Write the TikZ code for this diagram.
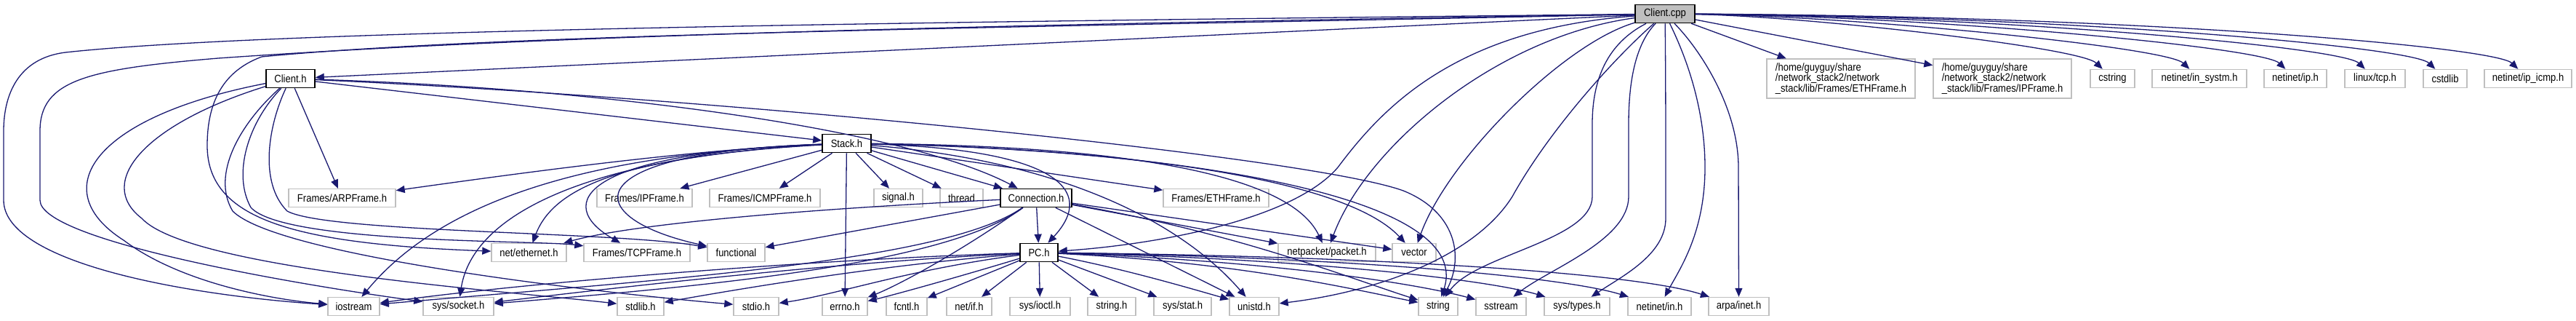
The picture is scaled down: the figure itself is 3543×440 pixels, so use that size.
\documentclass[tikz,border=0pt]{standalone}
\usepackage{fontspec}
\setmainfont{Liberation Sans}[FakeStretch=0.88]
\usetikzlibrary{calc, arrows.meta, positioning}
\definecolor{edgeblue}{RGB}{25,25,112}
\definecolor{leafgrey}{RGB}{191,191,191}
\definecolor{rootgrey}{RGB}{191,191,191}
\tikzset{
  incfile/.style={draw=leafgrey, fill=white, line width=.7pt, inner sep=0pt,
    minimum height=12.5pt, font=\fontsize{7.4pt}{7.3pt}\selectfont},
  hdrfile/.style={incfile, draw=black, line width=.8pt},
  rootfile/.style={hdrfile, fill=rootgrey},
  inc/.style={draw=edgeblue, line width=.65pt, -{Triangle[length=6pt,width=5pt]}}
}
\begin{document}
\begin{tikzpicture}[x=.5pt, y=-.5pt]
        \useasboundingbox (0,0) rectangle (3543,440);
        \node[rootfile, minimum width=41pt] (cpp) at (2290,19) {Client.cpp};
        \foreach \nm/\xa/\xb/\yy/\txt in {clienth/366/433/108/Client.h, stack/1131/1198/197/Stack.h,
            conn/1376/1474/272/Connection.h, pch/1403/1455/347/PC.h}{
          \node[hdrfile, minimum width=(\xb-\xa)*.5pt] (\nm) at ({(\xa+\xb)/2},\yy) {\txt};
        }
        \foreach \nm/\xa/\xb/\yy/\txt in {
            cstring/2875/2936/108/cstring, insystm/2960/3090/108/{netinet/in\_systm.h},
            ip/3114/3200/108/{netinet/ip.h}, lintcp/3225/3308/108/{linux/tcp.h},
            cstdlib/3333/3393/108/cstdlib, icmph/3417/3537/108/{netinet/ip\_icmp.h},
            arp/397/544/272/{Frames/ARPFrame.h}, ipframe/821/952/272/{Frames/IPFrame.h},
            icmp/976/1128/272/{Frames/ICMPFrame.h}, signal/1202/1269/272/{signal.h},
            thread/1293/1352/272/thread, ethframe/1600/1745/272/{Frames/ETHFrame.h},
            ether/676/779/347/{net/ethernet.h}, tcp/803/949/347/{Frames/TCPFrame.h},
            functional/973/1052/347/functional, netpacket/1758/1892/347/{netpacket/packet.h},
            vector/1915/1975/347/vector,
            iostream/451/522/421/iostream, socket/582/679/421/{sys/socket.h},
            stdlib/849/913/421/{stdlib.h}, stdio/1009/1071/421/{stdio.h},
            errno/1131/1193/421/{errno.h}, fcntl/1219/1275/421/{fcntl.h},
            netif/1302/1364/421/{net/if.h}, ioctl/1389/1472/421/{sys/ioctl.h},
            stringh/1496/1562/421/{string.h}, stat/1587/1666/421/{sys/stat.h},
            unistd/1691/1759/421/{unistd.h}, string/1951/2005/421/string,
            sstream/2030/2099/421/sstream, types/2124/2214/421/{sys/types.h},
            netin/2239/2326/421/{netinet/in.h}, inet/2350/2433/421/{arpa/inet.h}}{
          \node[incfile, minimum width=(\xb-\xa)*.5pt] (\nm) at ({(\xa+\xb)/2},\yy) {\txt};
        }
        \node[incfile, minimum width=102pt, minimum height=27pt, align=left] (ethhome) at (2532,108)
          {/home/guyguy/share\\/network\_stack2/network\\\_stack/lib/Frames/ETHFrame.h};
        \node[incfile, minimum width=95pt, minimum height=27pt, align=left] (iphome) at (2754,108)
          {/home/guyguy/share\\/network\_stack2/network\\\_stack/lib/Frames/IPFrame.h};
        % Client.cpp
        \draw[inc] (cpp) -- (clienth);
        \draw[inc] (cpp) .. controls (1500,28) and (400,38) .. (90,72) .. controls (25,80) and (5,130) .. (5,180)
          -- (5,275) .. controls (5,360) and (250,405) .. (iostream);
        \draw[inc] (cpp) .. controls (1500,32) and (800,45) .. (300,80) .. controls (120,95) and (55,110) .. (55,180)
          -- (55,275) .. controls (55,330) and (400,390) .. (socket);
        \draw[inc] (cpp) .. controls (1500,36) and (700,45) .. (360,78) .. controls (300,100) and (285,150) .. (285,200)
          .. controls (285,300) and (400,335) .. (ether);
        \draw[inc] (cpp) .. controls (2000,40) and (1900,150) .. (1840,230) .. controls (1780,300) and (1600,335) .. (pch);
        \draw[inc] (cpp) .. controls (2060,50) and (1880,200) .. (netpacket);
        \draw[inc] (cpp) .. controls (2150,60) and (1990,220) .. (vector);
        \draw[inc] (cpp) .. controls (2220,80) and (2130,180) .. (2080,270) .. controls (2030,350) and (1900,400) .. (unistd);
        \draw[inc] (cpp) .. controls (2210,60) and (2190,110) .. (2190,170) -- (2190,270)
          .. controls (2190,330) and (2030,350) .. (string);
        \draw[inc] (cpp) .. controls (2250,60) and (2240,110) .. (2240,170) -- (2240,270)
          .. controls (2240,330) and (2130,370) .. (sstream);
        \draw[inc] (cpp) .. controls (2291,100) and (2291,200) .. (2291,300) .. controls (2291,350) and (2230,380) .. (types);
        \draw[inc] (cpp) .. controls (2320,80) and (2345,150) .. (2345,230) .. controls (2345,320) and (2310,370) .. (netin);
        \draw[inc] (cpp) .. controls (2340,70) and (2391,150) .. (2391,230) -- (inet);
        \draw[inc] (cpp) -- (ethhome);
        \draw[inc] (cpp) -- (iphome);
        \foreach \tgt/\cx in {cstring/2480, insystm/2550, ip/2650, lintcp/2750, cstdlib/2850, icmph/2950}{
          \draw[inc] (cpp) .. controls (\cx,22) and ($(\tgt.north)+(-45,-30)$) .. (\tgt);
        }
        % Client.h
        \draw[inc] (clienth) -- (stack);
        \draw[inc] (clienth) -- (arp);
        \draw[inc] (clienth) .. controls (850,122) and (1250,180) .. (conn);
        \draw[inc] (clienth) .. controls (1000,135) and (1800,215) .. (1930,262) .. controls (2000,290) and (2015,350) .. (string);
        \draw[inc] (clienth) .. controls (130,160) and (60,260) .. (170,330) .. controls (250,390) and (380,412) .. (iostream);
        \draw[inc] (clienth) .. controls (200,170) and (130,250) .. (195,300) .. controls (260,370) and (700,400) .. (stdlib);
        \draw[inc] (clienth) .. controls (330,170) and (290,240) .. (320,290) .. controls (380,350) and (800,400) .. (stdio);
        \draw[inc] (clienth) .. controls (340,170) and (320,240) .. (345,285) .. controls (390,335) and (740,330) .. (tcp);
        \draw[inc] (clienth) .. controls (370,170) and (355,250) .. (395,290) .. controls (450,320) and (850,318) .. (functional);
        % Stack.h
        \draw[inc] (stack) .. controls (950,205) and (700,240) .. (arp);
        \draw[inc] (stack) .. controls (850,210) and (620,260) .. (iostream);
        \draw[inc] (stack) .. controls (820,215) and (650,290) .. (socket);
        \draw[inc] (stack) .. controls (850,215) and (760,260) .. (ether);
        \draw[inc] (stack) .. controls (800,210) and (760,280) .. (tcp);
        \draw[inc] (stack) .. controls (780,210) and (800,300) .. (functional);
        \foreach \tgt in {ipframe, icmp, errno, signal, thread, conn, ethframe}{
          \draw[inc] (stack) -- (\tgt);
        }
        \draw[inc] (stack) .. controls (1450,205) and (1510,260) .. (pch);
        \draw[inc] (stack) .. controls (1450,220) and (1620,300) .. (unistd);
        \draw[inc] (stack) .. controls (1500,200) and (1770,230) .. (netpacket);
        \draw[inc] (stack) .. controls (1550,205) and (1850,245) .. (vector);
        \draw[inc] (stack) .. controls (1600,205) and (2030,265) .. (string);
        % Connection.h
        \foreach \tgt in {pch, functional, unistd, netpacket, vector}{
          \draw[inc] (conn) -- (\tgt);
        }
        \draw[inc] (conn) .. controls (1150,285) and (880,305) .. (ether);
        \draw[inc] (conn) .. controls (1300,360) and (900,385) .. (iostream);
        \draw[inc] (conn) .. controls (1300,365) and (950,395) .. (socket);
        \draw[inc] (conn) .. controls (1330,340) and (1240,390) .. (errno);
        \draw[inc] (conn) .. controls (1700,320) and (1850,380) .. (string);
        % PC.h
        \draw[inc] (pch) .. controls (1150,355) and (750,385) .. (iostream);
        \draw[inc] (pch) .. controls (1150,360) and (850,395) .. (socket);
        \draw[inc] (pch) .. controls (1200,365) and (1000,400) .. (stdlib);
        \draw[inc] (pch) .. controls (1250,370) and (1150,405) .. (stdio);
        \draw[inc] (pch) .. controls (1320,380) and (1230,405) .. (errno);
        \foreach \tgt in {fcntl, netif, ioctl, stringh, stat}{
          \draw[inc] (pch) -- (\tgt);
        }
        \draw[inc] (pch) .. controls (1550,370) and (1650,400) .. (unistd);
        \draw[inc] (pch) .. controls (1700,360) and (1850,395) .. (string);
        \draw[inc] (pch) .. controls (1750,358) and (1950,390) .. (sstream);
        \draw[inc] (pch) .. controls (1800,355) and (2050,385) .. (types);
        \draw[inc] (pch) .. controls (1850,353) and (2150,380) .. (netin);
        \draw[inc] (pch) .. controls (1900,352) and (2250,375) .. (inet);
\end{tikzpicture}
\end{document}
